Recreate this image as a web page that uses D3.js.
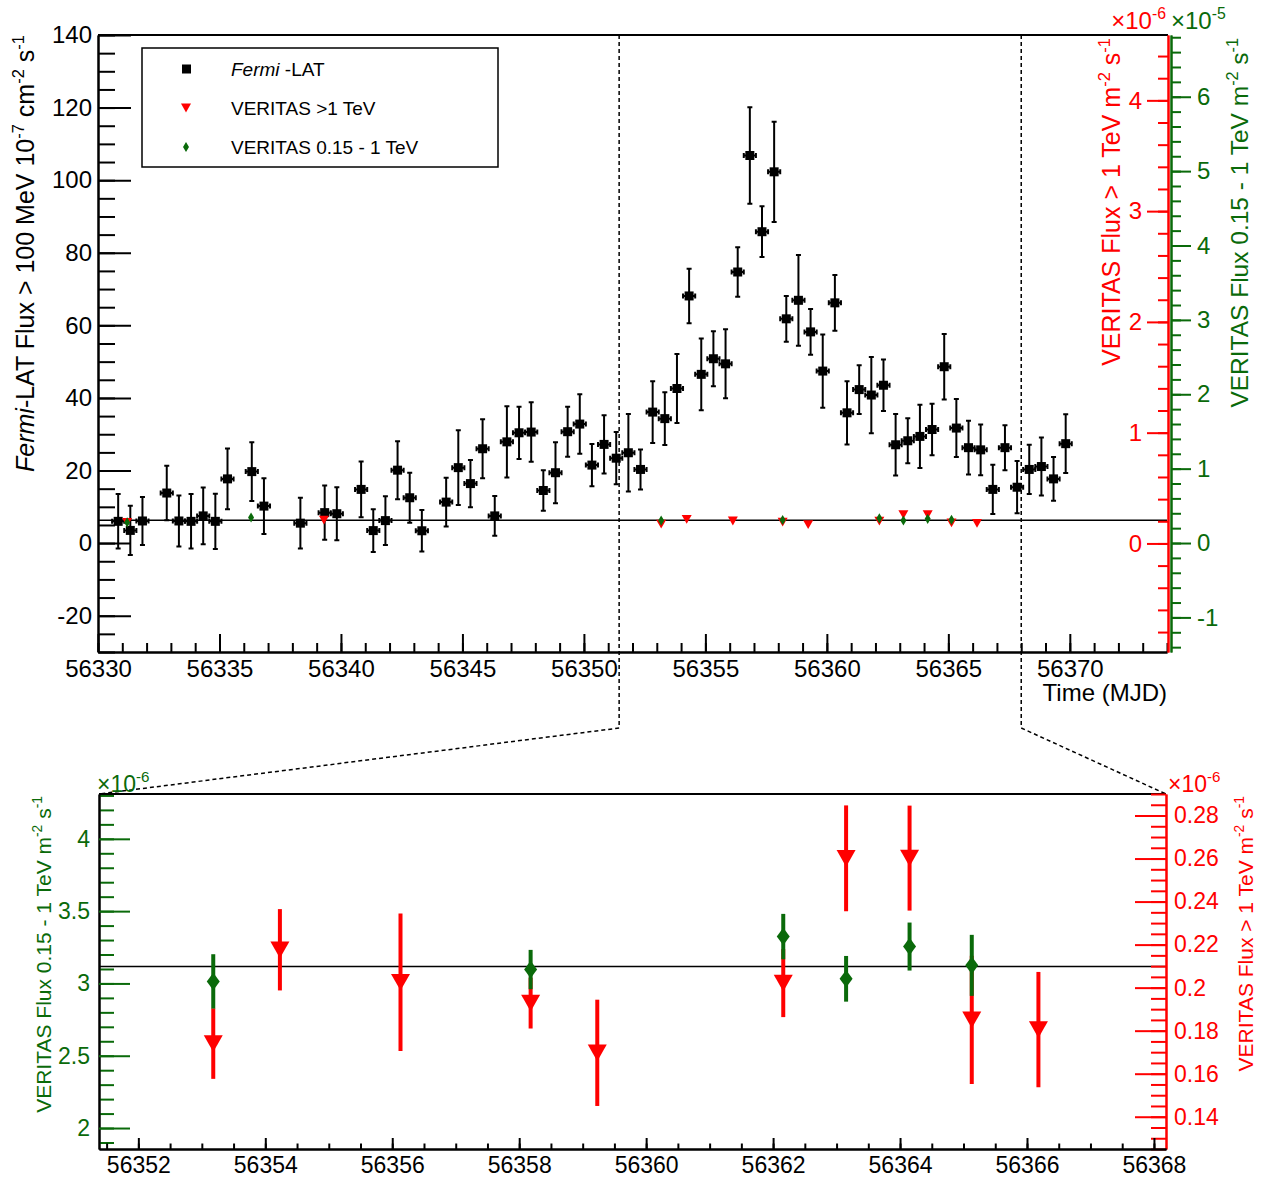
<!DOCTYPE html>
<html>
<head>
<meta charset="utf-8">
<script src="https://cdn.jsdelivr.net/npm/d3@7"></script>
<style>
  body { margin: 0; background: #fff; }
  svg text { font-family: "Liberation Sans", Arial, Helvetica, sans-serif; }
</style>
</head>
<body>
<svg id="chart" width="1266" height="1177"></svg>
<script>
// Fermi-LAT light curve (10^-7 cm^-2 s^-1), half-day bins
var fermiMjd = [56330.83, 56331.33, 56331.83, 56332.83, 56333.33, 56333.83, 56334.33, 56334.83, 56335.33,
  56336.33, 56336.83, 56338.33, 56339.33, 56339.83, 56340.83, 56341.33, 56341.83, 56342.33, 56342.83,
  56343.33, 56344.33, 56344.83, 56345.33, 56345.83, 56346.33, 56346.83, 56347.33, 56347.83, 56348.33,
  56348.83, 56349.33, 56349.83, 56350.33, 56350.83, 56351.33, 56351.83, 56352.33, 56352.83, 56353.33,
  56353.83, 56354.33, 56354.83, 56355.33, 56355.83, 56356.33, 56356.83, 56357.33, 56357.83, 56358.33,
  56358.83, 56359.33, 56359.83, 56360.33, 56360.83, 56361.33, 56361.83, 56362.33, 56362.83, 56363.33,
  56363.83, 56364.33, 56364.83, 56365.33, 56365.83, 56366.33, 56366.83, 56367.33, 56367.83, 56368.33,
  56368.83, 56369.33, 56369.83];
var fermiFlux = [6.0, 3.5, 6.1, 13.8, 6.1, 6.0, 7.5, 6.0, 17.7,
  19.7, 10.2, 5.5, 8.4, 8.1, 14.8, 3.45, 6.2, 20.1, 12.5,
  3.4, 11.3, 20.8, 16.4, 26.0, 7.5, 27.9, 30.4, 30.6, 14.5,
  19.4, 30.7, 32.8, 21.5, 27.2, 23.4, 24.9, 20.3, 36.1, 34.3,
  42.6, 68.1, 46.5, 50.8, 49.4, 74.7, 106.8, 85.8, 102.3, 61.8,
  66.9, 58.2, 47.4, 66.2, 35.9, 42.3, 40.8, 43.5, 27.1, 28.2,
  29.4, 31.3, 48.6, 31.7, 26.3, 25.7, 14.8, 26.3, 15.4, 20.3,
  21.1, 17.7, 27.4];
var fermiErr = [7.5, 6.8, 6.6, 7.5, 7.0, 7.5, 7.8, 7.6, 8.4,
  8.1, 7.7, 7.0, 7.5, 7.3, 7.7, 5.9, 6.7, 8.0, 6.9,
  5.7, 6.7, 10.3, 6.5, 8.1, 5.5, 9.8, 7.2, 8.2, 5.6,
  8.4, 6.9, 8.2, 5.8, 8.0, 7.2, 10.7, 5.5, 8.5, 7.3,
  9.5, 7.5, 9.9, 7.6, 9.5, 6.8, 13.3, 7.0, 13.8, 6.3,
  12.5, 6.3, 10.1, 7.7, 8.7, 6.7, 10.5, 7.1, 8.5, 6.2,
  8.7, 7.1, 9.0, 8.0, 7.4, 7.0, 6.8, 6.2, 7.2, 6.8,
  8.0, 6.0, 8.1];
var fermiHalfBin = 0.25;

// VERITAS > 1 TeV (10^-6 m^-2 s^-1)
var vtsHighMjd = [56331.2, 56339.3, 56353.18, 56354.23, 56356.13, 56358.18, 56359.23, 56362.16, 56363.15, 56364.15, 56365.13, 56366.18];
var vtsHighFlux = [0.19, 0.21, 0.174, 0.2176, 0.2025, 0.1928, 0.1697, 0.2021, 0.2601, 0.2602, 0.185, 0.1805];
var vtsHighErr = [0.03, 0.03, 0.0164, 0.0189, 0.0319, 0.0118, 0.0247, 0.0158, 0.0246, 0.0244, 0.0298, 0.0268];
var vtsHighMean = 0.21;

// VERITAS 0.15 - 1 TeV (10^-6 m^-2 s^-1)
var vtsLowMjd = [56331.2, 56336.3, 56353.18, 56358.18, 56362.16, 56363.15, 56364.15, 56365.13];
var vtsLowFlux = [2.78, 3.43, 3.014, 3.096, 3.324, 3.032, 3.255, 3.125];
var vtsLowErr = [0.2, 0.2, 0.188, 0.136, 0.157, 0.158, 0.166, 0.211];
var vtsLowMean = 3.1165;

// zoomed MJD window marked in the upper panel
var zoomEdges = [56351.45, 56368.0];

// ticks
var topXTicks = [56330, 56335, 56340, 56345, 56350, 56355, 56360, 56365, 56370];
var topYTicks = [-20, 0, 20, 40, 60, 80, 100, 120, 140];
var topRedTicks = [0, 1, 2, 3, 4];
var topGreenTicks = [-1, 0, 1, 2, 3, 4, 5, 6];
var botXTicks = [56352, 56354, 56356, 56358, 56360, 56362, 56364, 56366, 56368];
var botGreenTicks = [2, 2.5, 3, 3.5, 4];
var botRedTicks = [0.14, 0.16, 0.18, 0.2, 0.22, 0.24, 0.26, 0.28];

var RED = "#ff0000", GREEN = "#0a6a0a", FONT = "'Liberation Sans', Arial, Helvetica, sans-serif";
var svg = d3.select("#chart");

// scales
var x1 = d3.scaleLinear().domain([56330, 56374]).range([98, 1167]);
var y1 = d3.scaleLinear().domain([-30, 140]).range([652, 35]);
var y1Red = d3.scaleLinear().domain([-0.98, 4.59]).range([652, 35]);
var y1Green = d3.scaleLinear().domain([-1.465, 6.83]).range([652, 35]);

var x2 = d3.scaleLinear().domain([56351.38, 56368.19]).range([99, 1166]);
var y2Green = d3.scaleLinear().domain([1.855, 4.31]).range([1149, 794]);
var y2Red = d3.scaleLinear().domain([0.125, 0.290]).range([1149, 794]);

function zip(xs, ys, es) {
  return xs.map(function (x, i) { return { x: x, y: ys[i], e: es[i] }; });
}
var fermi = zip(fermiMjd, fermiFlux, fermiErr);
var vtsHigh = zip(vtsHighMjd, vtsHighFlux, vtsHighErr);
var vtsLow = zip(vtsLowMjd, vtsLowFlux, vtsLowErr);

// marker shapes (size = width^2)
var downTriangle = { draw: function (c, s) {
  var w = Math.sqrt(s), h = w * 0.88;
  c.moveTo(-w / 2, -h / 2); c.lineTo(w / 2, -h / 2); c.lineTo(0, h / 2); c.closePath();
} };
var tallDiamond = { draw: function (c, s) {
  var w = Math.sqrt(s), h = w * 1.35;
  c.moveTo(0, -h / 2); c.lineTo(w / 2, 0); c.lineTo(0, h / 2); c.lineTo(-w / 2, 0); c.closePath();
} };
var thinDiamond = { draw: function (c, s) {
  var w = Math.sqrt(s), h = w * 1.7;
  c.moveTo(0, -h / 2); c.lineTo(w / 2, 0); c.lineTo(0, h / 2); c.lineTo(-w / 2, 0); c.closePath();
} };

function addAxis(tx, ty, make, scale, major, minor, lens, pad, color, fmt, size, domainColor) {
  var g = svg.append("g").attr("transform", "translate(" + tx + "," + ty + ")");
  g.append("g").call(make(scale).tickValues(minor).tickSizeInner(lens[1]).tickSizeOuter(0).tickFormat(""));
  g.append("g").call(make(scale).tickValues(major).tickSizeInner(lens[0]).tickSizeOuter(0)
    .tickPadding(pad).tickFormat(fmt));
  g.selectAll("g").attr("font-size", size).attr("font-family", FONT).attr("color", color);
  g.selectAll(".tick line").attr("stroke-width", 2);
  g.selectAll(".domain").attr("stroke", domainColor || color).attr("stroke-width", 2);
  return g;
}

function richText(parent, parts, size) {
  var t = parent.append("text").attr("font-size", size);
  var shift = 0;
  parts.forEach(function (p) {
    var sp = t.append("tspan").text(p[0]);
    var want = p[1] === "s" ? -size * 0.42 : 0;
    if (want !== shift) { sp.attr("dy", want - shift); shift = want; }
    if (p[1] === "s") sp.attr("font-size", size * 0.66);
    if (p[1] === "i") sp.attr("font-style", "italic");
  });
  return t;
}

function rotTitle(x, y, parts, size, color) {
  var g = svg.append("g").attr("transform", "translate(" + x + "," + y + ") rotate(-90)");
  richText(g, parts, size).attr("text-anchor", "end").attr("fill", color);
}

// plain hyphen for negatives, as in the original
var plainFmt = function (d) { return String(+d.toFixed(3)); };

// ---------- upper panel ----------
// mean line
svg.append("line")
  .attr("x1", x1.range()[0]).attr("x2", x1.range()[1])
  .attr("y1", y1Red(vtsHighMean)).attr("y2", y1Red(vtsHighMean))
  .attr("stroke", "#000").attr("stroke-width", 1.5);

// zoom guides
zoomEdges.forEach(function (m, i) {
  var bx = x2.range()[i];
  svg.append("path")
    .attr("d", "M" + x1(m) + "," + y1.range()[1] + "L" + x1(m) + ",728L" + bx + "," + y2Red.range()[1])
    .attr("fill", "none").attr("stroke", "#000").attr("stroke-width", 1.5).attr("stroke-dasharray", "4,3");
});

// frame top
svg.append("line").attr("x1", 98).attr("x2", 1168).attr("y1", 35).attr("y2", 35)
  .attr("stroke", "#000").attr("stroke-width", 2);

addAxis(98, 0, d3.axisLeft, y1, topYTicks, d3.range(-30, 141, 5), [-33, -17], 6, "#000", plainFmt, 24);
addAxis(0, 652, d3.axisBottom, x1, topXTicks, d3.range(56330, 56375, 1), [-18, -9], 8, "#000", plainFmt, 24);
addAxis(1168, 0, d3.axisLeft, y1Red, topRedTicks, d3.range(-4, 23).map(function (i) { return i / 5; }),
  [21, 10], 5, RED, plainFmt, 24);
addAxis(1171, 0, d3.axisRight, y1Green, topGreenTicks, d3.range(-7, 35).map(function (i) { return i / 5; }),
  [20, 10], 6, GREEN, plainFmt, 24);

// Fermi points
var fg = svg.append("g").attr("stroke", "#000").attr("stroke-width", 2);
var fp = fg.selectAll("g").data(fermi).enter().append("g");
fp.append("line")
  .attr("x1", function (d) { return x1(d.x); }).attr("x2", function (d) { return x1(d.x); })
  .attr("y1", function (d) { return y1(d.y - d.e); }).attr("y2", function (d) { return y1(d.y + d.e); });
fp.append("path").attr("d", function (d) {
  var x = x1(d.x), a = y1(d.y - d.e), b = y1(d.y + d.e);
  return "M" + (x - 2.5) + "," + a + "h5M" + (x - 2.5) + "," + b + "h5";
});
fp.append("path").attr("d", function (d) {
  var l = x1(d.x - fermiHalfBin), r = x1(d.x + fermiHalfBin), y = y1(d.y);
  return "M" + l + "," + y + "H" + r + "M" + l + "," + (y - 2.5) + "v5M" + r + "," + (y - 2.5) + "v5";
});
fp.append("rect")
  .attr("x", function (d) { return x1(d.x) - 4.5; }).attr("y", function (d) { return y1(d.y) - 4.5; })
  .attr("width", 9).attr("height", 9).attr("fill", "#000").attr("stroke", "none");

// VERITAS points on the upper panel
svg.append("g").selectAll("path").data(vtsHigh).enter().append("path")
  .attr("d", d3.symbol().type(downTriangle).size(100))
  .attr("transform", function (d) { return "translate(" + x1(d.x) + "," + y1Red(d.y) + ")"; })
  .attr("fill", RED);
svg.append("g").selectAll("path").data(vtsLow).enter().append("path")
  .attr("d", d3.symbol().type(thinDiamond).size(36))
  .attr("transform", function (d) { return "translate(" + x1(d.x) + "," + y1Green(d.y / 10) + ")"; })
  .attr("fill", GREEN);

// legend
var lg = svg.append("g");
lg.append("rect").attr("x", 142).attr("y", 48).attr("width", 356).attr("height", 119)
  .attr("fill", "#fff").attr("stroke", "#000").attr("stroke-width", 1.5);
lg.append("rect").attr("x", 182).attr("y", 64.5).attr("width", 9).attr("height", 9).attr("fill", "#000");
lg.append("path").attr("d", d3.symbol().type(downTriangle).size(100)).attr("transform", "translate(186,108)").attr("fill", RED);
lg.append("path").attr("d", d3.symbol().type(thinDiamond).size(36)).attr("transform", "translate(186,147)").attr("fill", GREEN);
[[["Fermi", "i"], [" -LAT"]], [["VERITAS >1 TeV"]], [["VERITAS 0.15 - 1 TeV"]]].forEach(function (parts, i) {
  richText(lg, parts, 19).attr("x", 231).attr("y", 69 + i * 39).attr("dy", "0.35em").attr("fill", "#000");
});

// titles
rotTitle(34, 35, [["Fermi", "i"], ["-LAT Flux > 100 MeV 10"], ["-7", "s"], [" cm"], ["-2", "s"], [" s"], ["-1", "s"]], 25, "#000");
rotTitle(1120, 38, [["VERITAS Flux > 1 TeV m"], ["-2", "s"], [" s"], ["-1", "s"]], 25, RED);
rotTitle(1248, 38, [["VERITAS Flux 0.15 - 1 TeV m"], ["-2", "s"], [" s"], ["-1", "s"]], 24.5, GREEN);
svg.append("text").attr("x", 1167).attr("y", 701).attr("text-anchor", "end").attr("font-size", 24).text("Time (MJD)");
richText(svg, [["\u00d710"], ["-6", "s"]], 24).attr("x", 1166).attr("y", 29).attr("text-anchor", "end").attr("fill", RED);
richText(svg, [["\u00d710"], ["-5", "s"]], 24).attr("x", 1171).attr("y", 29).attr("fill", GREEN);

// ---------- lower panel ----------
var inWin = function (d) { return d.x >= x2.domain()[0] && d.x <= x2.domain()[1]; };

svg.append("line").attr("x1", 99).attr("x2", 1166).attr("y1", 794).attr("y2", 794)
  .attr("stroke", "#000").attr("stroke-width", 2);
svg.append("line")
  .attr("x1", 99).attr("x2", 1166)
  .attr("y1", y2Green(vtsLowMean)).attr("y2", y2Green(vtsLowMean))
  .attr("stroke", "#000").attr("stroke-width", 1.5);

addAxis(99, 0, d3.axisLeft, y2Green, botGreenTicks, d3.range(19, 44).map(function (i) { return i / 10; }),
  [-31, -15], 9, GREEN, plainFmt, 23, "#000");
addAxis(1166, 0, d3.axisRight, y2Red, botRedTicks, d3.range(25, 59).map(function (i) { return i / 200; }),
  [-31, -15], 8, RED, plainFmt, 23);
addAxis(0, 1149, d3.axisBottom, x2, botXTicks, d3.range(56351.5, 56368.5, 0.5),
  [-11, -5.5], 8, "#000", plainFmt, 23);

var rg = svg.append("g").selectAll("g").data(vtsHigh.filter(inWin)).enter().append("g");
rg.append("line")
  .attr("x1", function (d) { return x2(d.x); }).attr("x2", function (d) { return x2(d.x); })
  .attr("y1", function (d) { return y2Red(d.y - d.e); }).attr("y2", function (d) { return y2Red(d.y + d.e); })
  .attr("stroke", RED).attr("stroke-width", 4);
rg.append("path")
  .attr("d", d3.symbol().type(downTriangle).size(361))
  .attr("transform", function (d) { return "translate(" + x2(d.x) + "," + y2Red(d.y) + ")"; })
  .attr("fill", RED);

var gg = svg.append("g").selectAll("g").data(vtsLow.filter(inWin)).enter().append("g");
gg.append("line")
  .attr("x1", function (d) { return x2(d.x); }).attr("x2", function (d) { return x2(d.x); })
  .attr("y1", function (d) { return y2Green(d.y - d.e); }).attr("y2", function (d) { return y2Green(d.y + d.e); })
  .attr("stroke", GREEN).attr("stroke-width", 4);
gg.append("path")
  .attr("d", d3.symbol().type(tallDiamond).size(169))
  .attr("transform", function (d) { return "translate(" + x2(d.x) + "," + y2Green(d.y) + ")"; })
  .attr("fill", GREEN);

rotTitle(51, 796, [["VERITAS Flux 0.15 - 1 TeV m"], ["-2", "s"], [" s"], ["-1", "s"]], 21, GREEN);
rotTitle(1253, 796, [["VERITAS Flux > 1 TeV m"], ["-2", "s"], [" s"], ["-1", "s"]], 21, RED);
richText(svg, [["\u00d710"], ["-6", "s"]], 23).attr("x", 97).attr("y", 792).attr("fill", GREEN);
richText(svg, [["\u00d710"], ["-6", "s"]], 23).attr("x", 1168).attr("y", 792).attr("fill", RED);
</script>
</body>
</html>
